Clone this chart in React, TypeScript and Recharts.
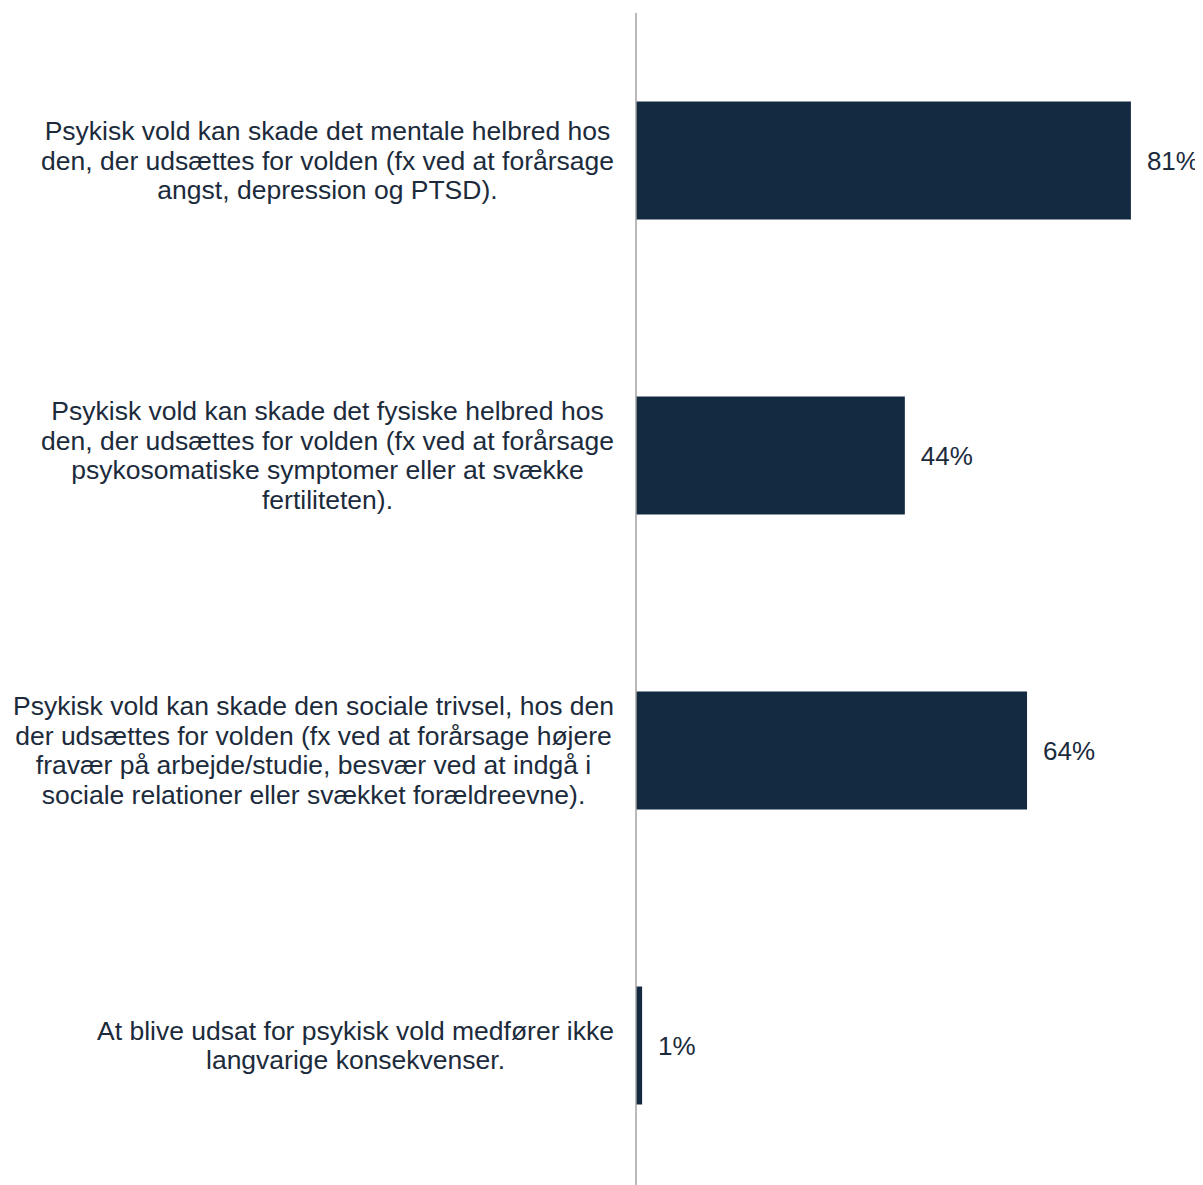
import { Bar, BarChart, LabelList, XAxis, YAxis } from "recharts";

const categories = ["mental", "fysisk", "social", "ingen"];
const categoryLines = [
  [
    "Psykisk vold kan skade det mentale helbred hos",
    "den, der udsættes for volden (fx ved at forårsage",
    "angst, depression og PTSD).",
  ],
  [
    "Psykisk vold kan skade det fysiske helbred hos",
    "den, der udsættes for volden (fx ved at forårsage",
    "psykosomatiske symptomer eller at svække",
    "fertiliteten).",
  ],
  [
    "Psykisk vold kan skade den sociale trivsel, hos den",
    "der udsættes for volden (fx ved at forårsage højere",
    "fravær på arbejde/studie, besvær ved at indgå i",
    "sociale relationer eller svækket forældreevne).",
  ],
  [
    "At blive udsat for psykisk vold medfører ikke",
    "langvarige konsekvenser.",
  ],
];
const shares = [81, 44, 64, 1];

const chartData = categories.map((key, i) => ({ key, share: shares[i] }));

const TEXT = "#1c2b3c";
const FONT = "'Liberation Sans', Arial, sans-serif";
const TICK_SIZE = 26.5;

let ctx: CanvasRenderingContext2D | null = null;
function textWidth(s: string) {
  if (!ctx) ctx = document.createElement("canvas").getContext("2d");
  if (!ctx) return s.length * TICK_SIZE * 0.5;
  ctx.font = `${TICK_SIZE}px ${FONT}`;
  return ctx.measureText(s).width;
}

// labels behave like right-aligned text boxes with centred lines
function CategoryTick({ x, y, payload }: any) {
  const idx = categories.indexOf(payload.value);
  const lines = categoryLines[idx] ?? [];
  const lineHeight = 29.5;
  const startY = y - ((lines.length - 1) * lineHeight) / 2;
  const boxWidth = Math.max(...lines.map(textWidth));
  const cx = x - 16 - boxWidth / 2;
  return (
    <text x={cx} y={startY} textAnchor="middle" dominantBaseline="central" fill={TEXT} fontSize={TICK_SIZE} fontFamily={FONT}>
      {lines.map((line, i) => (
        <tspan key={i} x={cx} y={startY + i * lineHeight}>
          {line}
        </tspan>
      ))}
    </text>
  );
}

export default function App() {
  return (
    <div style={{ width: 1195, height: 1177, overflow: "hidden", background: "#fff" }}>
      <BarChart
        width={1239}
        height={1185}
        data={chartData}
        layout="vertical"
        margin={{ top: 5, right: 0, bottom: 0, left: 0 }}
        barCategoryGap="30%"
      >
        <XAxis type="number" domain={[0, 100]} hide />
        <YAxis
          type="category"
          dataKey="key"
          width={628}
          axisLine={{ stroke: "#a3a3a3", strokeWidth: 1.5 }}
          tickLine={false}
          tickMargin={0}
          tick={<CategoryTick />}
          interval={0}
        />
        <Bar dataKey="share" fill="#132a40" isAnimationActive={false}>
          <LabelList
            dataKey="share"
            position="right"
            offset={16}
            formatter={(v: any) => `${v}%`}
            fill={TEXT}
            fontSize={26}
            fontFamily={FONT}
          />
        </Bar>
      </BarChart>
    </div>
  );
}
